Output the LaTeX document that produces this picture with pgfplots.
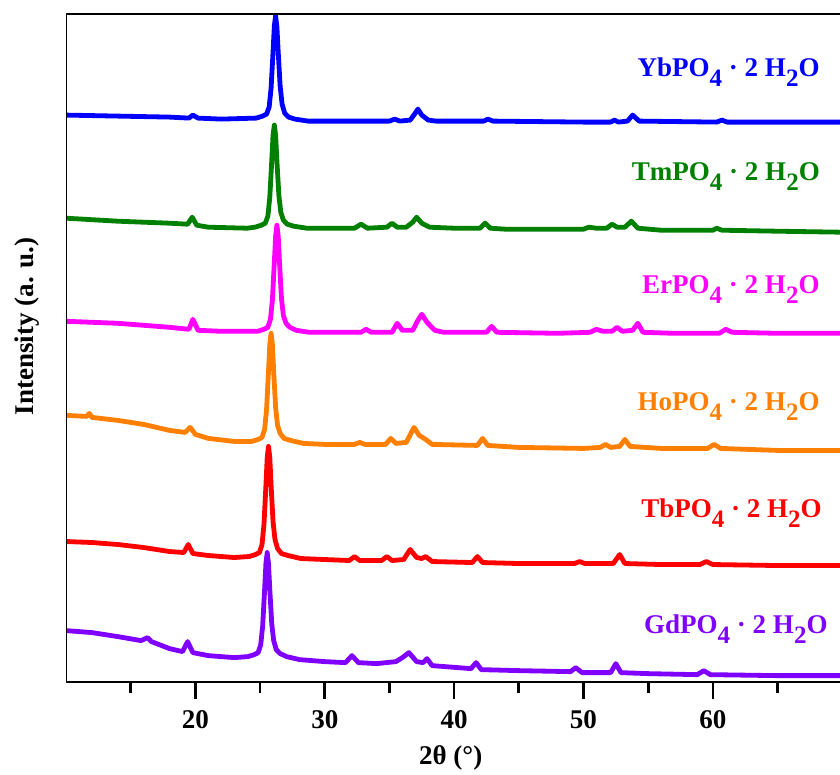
\documentclass[border=0pt]{standalone}
\usepackage{pgfplots}
\pgfplotsset{compat=1.18}
\usepackage{fontspec}
\setmainfont{Liberation Serif}
\definecolor{cYb}{RGB}{0,0,255}
\definecolor{cTm}{RGB}{0,128,0}
\definecolor{cEr}{RGB}{255,0,255}
\definecolor{cHo}{RGB}{255,128,0}
\definecolor{cTb}{RGB}{255,0,0}
\definecolor{cGd}{RGB}{128,0,255}
\newcommand{\sub}[1]{\raisebox{-5pt}{\fontsize{12.5}{12.5}\selectfont #1}}
\newcommand{\lab}[1]{\bfseries\fontsize{13.5}{15}\selectfont #1}
\begin{document}
\begin{tikzpicture}
\begin{axis}[
  at={(0,0)}, anchor=south west,
  scale only axis, width=386.6pt, height=334pt,
  xmin=10, xmax=69.83, ymin=0, ymax=668,
  axis line style={draw=none},
  xtick={20,30,40,50,60}, minor xtick={15,25,35,45,55,65},
  xtick pos=left, ytick=\empty,
  tick align=outside,
  major tick length=8pt, minor tick length=5pt,
  every tick/.style={black, line width=1.35pt},
  /pgf/number format/assume math mode=true,
  ticklabel style={font=\bfseries\fontsize{13.5}{15}\selectfont},
  xticklabel style={yshift=-2.5pt},
  xlabel={2θ (°)},
  xlabel style={at={(axis description cs:0.497,0)}, anchor=center, yshift=-37.5pt, font=\bfseries\fontsize{13.5}{15}\selectfont},
  ylabel={Intensity (a. u.)},
  ylabel style={at={(axis description cs:-0.0498,0.533)}, anchor=center, font=\bfseries\fontsize{13.5}{15}\selectfont},
  every axis plot/.append style={line width=2.4pt, line join=round, mark=none},
  clip=true,
]
% GdPO4
\addplot[color=cGd] coordinates {
(10,52)(12,50)(14,46)(15.8,42)(16.3,45)(16.6,41)(18,34)(19.0,31)(19.4,41)(19.8,30)(21,27)(23,25)(24.05,26)(24.55,28)(24.85,30)(25.05,38)(25.2,57)(25.35,93)(25.45,119)(25.55,130)(25.65,119)(25.75,93)(25.9,59)(26.05,42)(26.25,33)(26.55,29)(27.05,26)(28.05,23)(30,21)(31.6,20)(32.1,27)(32.6,20)(34.0,19)(35.5,21)(36.0,25)(36.5,30)(37.1,21)(37.6,20)(37.9,24)(38.3,17)(41.3,14)(41.7,20)(42.1,13)(45,12)(49.0,11)(49.4,15)(49.9,10)(52.1,10)(52.5,19)(52.9,10)(55,9)(58.8,8)(59.3,12)(59.8,8)(65,7)(70,7)
};
% TbPO4
\addplot[color=cTb] coordinates {
(10,141)(12,140)(14,138)(16,135)(18,131)(19.1,130)(19.45,138)(19.8,129)(21,127)(23,125)(24.15,126)(24.65,128)(24.95,130)(25.15,138)(25.3,158)(25.45,197)(25.55,225)(25.65,236)(25.75,225)(25.85,197)(26.0,161)(26.15,143)(26.35,134)(26.65,129)(27.15,127)(28.15,124)(30,123)(31.9,122)(32.3,126)(32.7,122)(34.4,122)(34.8,126)(35.2,122)(36.1,123)(36.6,133)(37.1,125)(37.5,124)(37.8,126)(38.3,121)(41.4,120)(41.8,126)(42.2,120)(45,119)(49.3,119)(49.7,121)(50.1,119)(52.3,119)(52.8,128)(53.2,119)(56,118)(59.0,118)(59.5,121)(60,118)(65,117)(70,117)
};
% HoPO4
\addplot[color=cHo] coordinates {
(10,267)(11.6,266)(11.8,269)(12.0,265)(14,262)(16,258)(18,252)(19.2,250)(19.6,255)(20.0,248)(21,244)(23,241)(24.35,241)(24.85,243)(25.15,245)(25.35,253)(25.5,273)(25.65,311)(25.75,338)(25.85,349)(25.95,338)(26.05,311)(26.2,275)(26.35,257)(26.55,249)(26.85,244)(27.35,242)(28.35,239)(30,238)(32.3,238)(32.7,240)(33.1,238)(34.7,238)(35.1,244)(35.5,239)(36.3,240)(36.7,250)(36.9,255)(37.3,247)(37.8,243)(38.3,238)(41.8,237)(42.2,244)(42.6,237)(45,235)(50,234)(51.3,235)(51.7,238)(52.1,235)(52.8,236)(53.2,243)(53.6,236)(56,234)(59.6,234)(60.1,238)(60.6,234)(65,232)(70,232)
};
% ErPO4
\addplot[color=cEr] coordinates {
(10,361)(14,359)(18,355)(19.5,353)(19.8,363)(20.2,352)(22,351)(24.8,351)(25.3,353)(25.6,355)(25.8,363)(25.95,382)(26.1,420)(26.2,446)(26.3,457)(26.4,446)(26.5,420)(26.65,384)(26.8,367)(27.0,359)(27.3,355)(27.8,352)(28.8,350)(32.8,350)(33.2,353)(33.6,350)(35.2,350)(35.6,359)(36.0,352)(36.8,352)(37.2,362)(37.5,368)(37.9,360)(38.5,352)(39.2,350)(42.5,350)(42.9,356)(43.3,350)(48,349)(50.5,350)(51.0,353)(51.5,351)(52.2,351)(52.6,355)(53.0,351)(53.8,352)(54.2,359)(54.6,350)(57,349)(60.5,349)(61.0,353)(61.5,350)(65,349)(70,349)
};
% TmPO4
\addplot[color=cTm] coordinates {
(10,464)(14,461)(18,459)(19.4,458)(19.75,465)(20.1,457)(21,455)(24,454)(24.6,455)(25.1,457)(25.4,459)(25.6,466)(25.75,485)(25.9,521)(26.0,547)(26.1,557)(26.2,547)(26.3,521)(26.45,487)(26.6,470)(26.8,462)(27.1,458)(27.6,456)(28.6,454)(32.3,454)(32.8,458)(33.3,454)(34.8,455)(35.2,459)(35.6,455)(36.3,455)(36.8,460)(37.1,465)(37.5,459)(38.1,455)(40,454)(42.0,454)(42.4,459)(42.8,454)(44,453)(50,453)(50.4,455)(51,454)(51.8,454)(52.2,458)(52.6,455)(53.2,455)(53.7,461)(54.2,454)(56,452)(60.0,452)(60.3,454)(60.7,452)(65,451)(70,450)
};
% YbPO4
\addplot[color=cYb] coordinates {
(10,567)(14,566)(18,565)(19.5,564)(19.8,567)(20.2,564)(22,563)(24.7,564)(25.2,566)(25.5,568)(25.7,575)(25.85,594)(26.0,630)(26.1,656)(26.2,666)(26.3,655)(26.4,630)(26.55,596)(26.7,578)(26.9,569)(27.2,565)(27.7,563)(28.7,561)(35.0,561)(35.4,563)(35.8,561)(36.6,562)(37.0,569)(37.2,573)(37.5,567)(38.0,562)(38.6,561)(42.3,561)(42.6,563)(43.0,561)(50,560)(52.1,560)(52.4,562)(52.7,560)(53.4,561)(53.8,567)(54.3,561)(60.3,560)(60.7,562)(61.1,560)(70,560)
};
\draw[black, line width=1.35pt, line join=round] (rel axis cs:1,0) -- (rel axis cs:0,0) -- (rel axis cs:0,1) -- (rel axis cs:1,1);
\node[anchor=base east, text=cYb, inner sep=0pt] at (axis cs:68.28,606) {\lab{YbPO\sub{4} · 2 H\sub{2}O}};
\node[anchor=base east, text=cTm, inner sep=0pt] at (axis cs:68.3,502) {\lab{TmPO\sub{4} · 2 H\sub{2}O}};
\node[anchor=base east, text=cEr, inner sep=0pt] at (axis cs:68.28,389) {\lab{ErPO\sub{4} · 2 H\sub{2}O}};
\node[anchor=base east, text=cHo, inner sep=0pt] at (axis cs:68.28,272) {\lab{HoPO\sub{4} · 2 H\sub{2}O}};
\node[anchor=base east, text=cTb, inner sep=0pt] at (axis cs:68.45,165) {\lab{TbPO\sub{4} · 2 H\sub{2}O}};
\node[anchor=base east, text=cGd, inner sep=0pt] at (axis cs:68.9,49) {\lab{GdPO\sub{4} · 2 H\sub{2}O}};
\end{axis}
\pgfresetboundingbox
\path[use as bounding box] (-33pt,-46pt) rectangle (386.6pt,341pt);
\end{tikzpicture}
\end{document}
